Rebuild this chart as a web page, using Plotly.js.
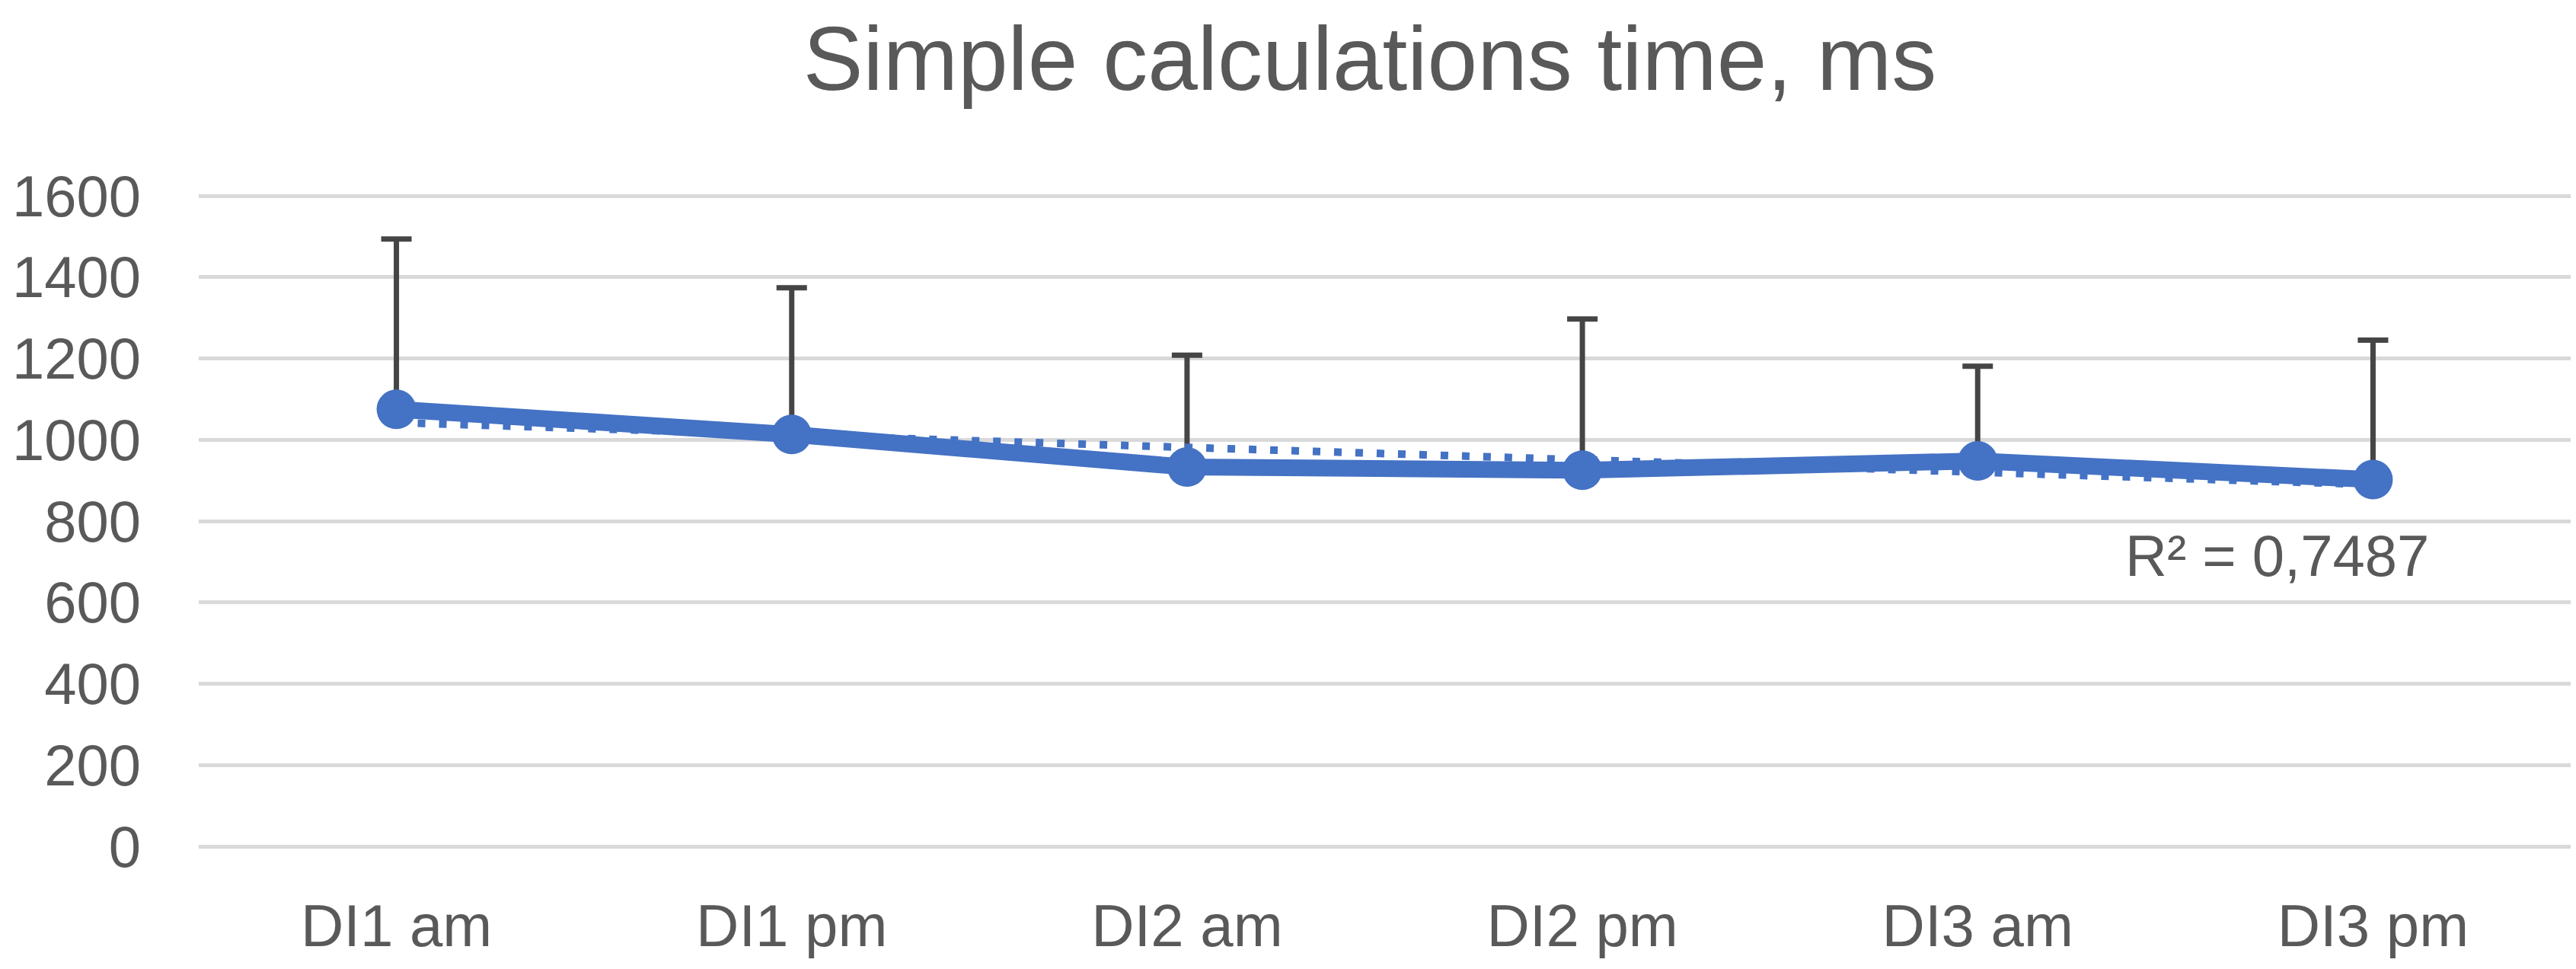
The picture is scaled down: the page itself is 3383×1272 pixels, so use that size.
<!DOCTYPE html>
<html>
<head>
<meta charset="utf-8">
<script src="https://cdn.plot.ly/plotly-3.0.1.min.js"></script>
<style>
  html, body { margin: 0; padding: 0; background: #fff; }
  #chart { width: 3383px; height: 1272px; }
</style>
</head>
<body>
<div id="chart"></div>
<script>
// values
let categories = ['DI1 am', 'DI1 pm', 'DI2 am', 'DI2 pm', 'DI3 am', 'DI3 pm']
let meanTime = [1075, 1013, 933, 925, 948, 902]
let sdPlus = [419, 361, 275, 372, 233, 343]
let yTicks = [0, 200, 400, 600, 800, 1000, 1200, 1400, 1600]
let rSquaredText = 'R² = 0,7487'

// linear trend (Excel style), fitted on category index 1..n
function linearTrend(vals) {
    let n = vals.length
    let xs = vals.map((v, i) => i + 1)
    let mx = xs.reduce((a, b) => a + b, 0) / n
    let my = vals.reduce((a, b) => a + b, 0) / n
    let sxy = 0, sxx = 0
    for (let i = 0; i < n; i++) {
        sxy += (xs[i] - mx) * (vals[i] - my)
        sxx += (xs[i] - mx) * (xs[i] - mx)
    }
    let slope = sxy / sxx
    return xs.map(x => my + slope * (x - mx))
}

let blue = '#4472C4'
let grey = '#595959'
let font = 'Liberation Sans, Arial, sans-serif'

let errTrace = {
    x: categories,
    y: meanTime,
    type: 'scatter',
    mode: 'markers',
    marker: { size: 1, opacity: 0 },
    error_y: {
        type: 'data',
        symmetric: false,
        array: sdPlus,
        arrayminus: sdPlus.map(() => 0),
        color: '#454545',
        thickness: 7,
        width: 20
    },
    hoverinfo: 'skip',
    showlegend: false
}

let mainTrace = {
    x: categories,
    y: meanTime,
    type: 'scatter',
    mode: 'lines+markers',
    line: { color: blue, width: 22 },
    marker: { color: blue, size: 52 },
    showlegend: false
}

let trendTrace = {
    x: categories,
    y: linearTrend(meanTime),
    type: 'scatter',
    mode: 'lines',
    line: { color: blue, width: 10, dash: '10px,18px' },
    showlegend: false
}

let layout = {
    width: 3383,
    height: 1272,
    paper_bgcolor: '#ffffff',
    plot_bgcolor: '#ffffff',
    margin: { l: 261, r: 7, t: 256, b: 161 },
    font: { family: font, color: grey, size: 76 },
    title: {
        text: 'Simple calculations time, ms',
        font: { family: font, size: 118, color: grey },
        xref: 'container',
        yref: 'container',
        x: 0.5318,
        xanchor: 'center',
        y: 0.94,
        yanchor: 'middle'
    },
    xaxis: {
        type: 'category',
        range: [-0.5, 5.5],
        showgrid: false,
        zeroline: false,
        showline: false,
        ticks: '',
        ticklabelstandoff: 52,
        tickfont: { family: font, size: 78, color: grey }
    },
    yaxis: {
        range: [0, 1602],
        tickvals: yTicks,
        showgrid: true,
        gridcolor: '#D9D9D9',
        gridwidth: 5,
        zeroline: true,
        zerolinecolor: '#D9D9D9',
        zerolinewidth: 5,
        showline: false,
        ticks: '',
        ticklabelstandoff: 75,
        tickfont: { family: font, size: 76, color: grey }
    },
    annotations: [{
        text: rSquaredText,
        xref: 'paper',
        yref: 'paper',
        x: 0.8115,
        xanchor: 'left',
        y: 0.446,
        yanchor: 'middle',
        showarrow: false,
        font: { family: font, size: 76, color: grey }
    }]
}

Plotly.newPlot('chart', [errTrace, mainTrace, trendTrace], layout, { staticPlot: true })
</script>
</body>
</html>
